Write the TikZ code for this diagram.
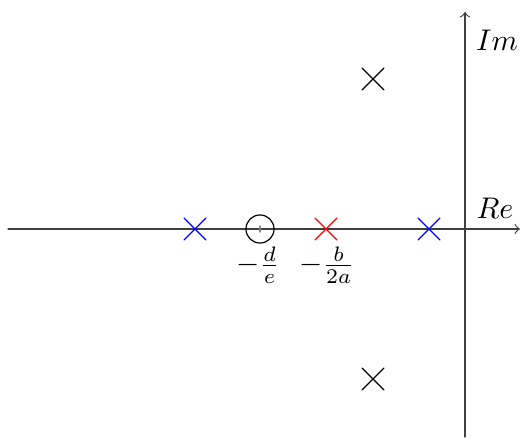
\documentclass[tikz,border=0pt]{standalone}
\usetikzlibrary{shapes.misc}
\begin{document}
\begin{tikzpicture}[scale=0.588, line join=round, line cap=round, >=to,
    pole/.style={cross out, draw, minimum size=0.26cm, inner sep=0pt, outer sep=0pt},
    zero/.style={circle, draw, minimum size=0.33cm, inner sep=0pt}]
	\useasboundingbox (-9.3,-4.2) rectangle (1.1,4.58);
	% Trục thực và trục ảo
	\coordinate (xl) at (-9.14,0);
	\coordinate (xr) at (1.1,0);
	\coordinate (yb) at (0,-4.16);
	\coordinate (yt) at (0,4.34);
	\draw[->, black!75] (xl) -- (xr);
	\draw[->, black!75] (yb) -- (yt);
	\node (re) at (0.6,0.42) {$Re$};
	\node (im) at (0.64,3.78) {$Im$};
	% Các cực
	\node[pole] (p1) at (-1.84,3) {};
	\node[pole] (p2) at (-1.84,-3) {};
	\node[pole, draw=blue] (p3) at (-5.4,0) {};
	\node[pole, draw=blue] (p4) at (-0.72,0) {};
	\node[pole, draw=red] (p5) at (-2.78,0) {};
	% Điểm không
	\node[zero] (z) at (-4.1,0) {};
	\draw[black!50] ([yshift=-0.06cm]z.center) -- ([yshift=0.06cm]z.center);
	% Kí hiệu
	\node (ld) at (-4.14,-0.72) {$-\frac{d}{e}$};
	\node (lb) at (-2.76,-0.72) {$-\frac{b}{2a}$};
\end{tikzpicture}
\end{document}
